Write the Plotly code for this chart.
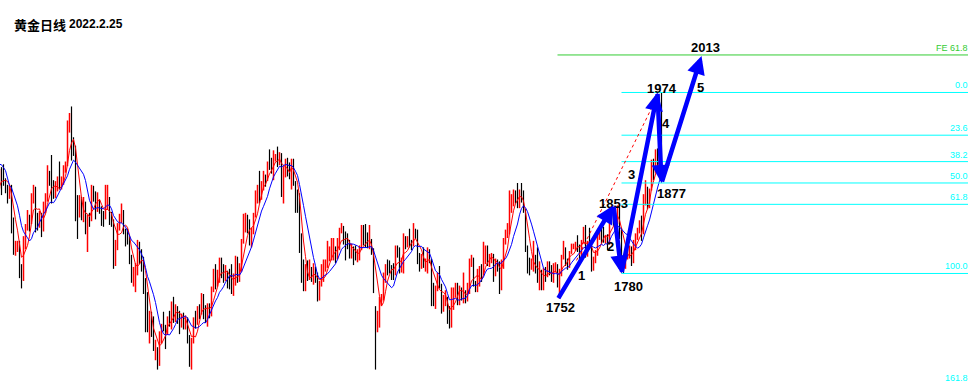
import plotly.graph_objects as go
import pandas as pd

# ---------------- data: XAUUSD daily bars, 2020-11-02 ... 2022-02-24 ----------------
# the first N_WARMUP bars lie left of the visible window (they only feed the averages)
N_WARMUP = 10

highs = [
    1896, 1910, 1910, 1951, 1960, 1966, 1881, 1882, 1881, 1892,                      # 2020-11 (warm-up)
    1894, 1897, 1882, 1875, 1875, 1875, 1840, 1815, 1815, 1815, 1790,                # 2020-11
    1820, 1833, 1848, 1843, 1866, 1875, 1873, 1845, 1847, 1845, 1857, 1866, 1896,
    1890, 1907, 1880, 1879, 1884, 1900, 1884, 1896, 1900,                            # 2020-12
    1944, 1952, 1959, 1926, 1917, 1864, 1864, 1862, 1862, 1857, 1843, 1845, 1875,
    1874, 1868, 1867, 1859, 1852, 1847, 1875,                                        # 2021-01
    1875, 1862, 1846, 1838, 1816, 1834, 1844, 1855, 1848, 1828, 1828, 1821, 1800,
    1787, 1791, 1816, 1814, 1806, 1798, 1775,                                        # 2021-02
    1760, 1740, 1739, 1734, 1709, 1701, 1718, 1726, 1739, 1725, 1734, 1740, 1750,
    1755, 1747, 1745, 1740, 1737, 1738, 1735, 1733, 1714, 1711,                      # 2021-03
    1733, 1740, 1745, 1747, 1759, 1758, 1746, 1748, 1748, 1766, 1785, 1790, 1784,
    1797, 1797, 1790, 1789, 1783, 1785, 1790, 1780,                                  # 2021-04
    1799, 1798, 1791, 1817, 1844, 1845, 1843, 1838, 1829, 1845, 1869, 1875, 1890,
    1879, 1890, 1886, 1900, 1913, 1904, 1912, 1908,                                  # 2021-05
    1916, 1910, 1909, 1895, 1903, 1904, 1899, 1903, 1903, 1879, 1870, 1866, 1823,
    1795, 1790, 1794, 1795, 1787, 1791, 1787, 1781, 1772,                            # 2021-06
    1790, 1795, 1795, 1815, 1809, 1818, 1818, 1809, 1818, 1829, 1834, 1831, 1825,
    1823, 1816, 1812, 1809, 1810, 1806, 1810, 1832, 1832,                            # 2021-07
    1833, 1824, 1832, 1817, 1807, 1745, 1740, 1755, 1758, 1781, 1790, 1795, 1794,
    1789, 1791, 1810, 1810, 1808, 1797, 1823, 1820, 1820,                            # 2021-08
    1828, 1816, 1834, 1828, 1827, 1802, 1801, 1808, 1796, 1808, 1806, 1796, 1770,
    1767, 1781, 1788, 1769, 1757, 1762, 1755, 1745, 1765,                            # 2021-09
    1765, 1770, 1770, 1767, 1765, 1781, 1762, 1770, 1796, 1800, 1797, 1772, 1785,
    1788, 1790, 1814, 1810, 1810, 1801, 1802, 1801,                                  # 2021-10
    1796, 1795, 1793, 1795, 1818, 1827, 1834, 1869, 1865, 1870, 1869, 1877, 1870,
    1877, 1869, 1849, 1810, 1797, 1796, 1815, 1800, 1808,                            # 2021-11
    1793, 1784, 1786, 1787, 1793, 1793, 1789, 1791, 1792, 1790, 1785, 1800, 1815,
    1808, 1796, 1804, 1812, 1812, 1814, 1821, 1811, 1816, 1830,                      # 2021-12
    1832, 1815, 1829, 1811, 1798, 1805, 1823, 1828, 1829, 1830, 1821, 1822, 1845,
    1847, 1847, 1845, 1853, 1852, 1829, 1800, 1802,                                  # 2022-01
    1807, 1810, 1809, 1816, 1823, 1829, 1837, 1842, 1865, 1880, 1873, 1871, 1902,
    1903, 1913, 1914, 1913, 1974,                                                    # 2022-02
]

lows = [
    1872, 1889, 1877, 1903, 1935, 1849, 1850, 1859, 1861, 1871,
    1864, 1874, 1866, 1855, 1860, 1823, 1800, 1799, 1803, 1775, 1764,
    1772, 1806, 1826, 1825, 1833, 1855, 1824, 1826, 1829, 1819, 1825, 1845, 1857,
    1874, 1855, 1860, 1861, 1868, 1870, 1870, 1875, 1888,
    1895, 1931, 1901, 1906, 1836, 1817, 1840, 1837, 1835, 1822, 1803, 1830, 1836,
    1857, 1838, 1846, 1844, 1831, 1830, 1838,
    1848, 1832, 1830, 1785, 1788, 1805, 1826, 1834, 1822, 1809, 1811, 1790, 1770,
    1766, 1760, 1778, 1790, 1782, 1758, 1717,
    1717, 1705, 1712, 1697, 1687, 1677, 1681, 1705, 1718, 1699, 1714, 1723, 1720,
    1727, 1728, 1726, 1715, 1722, 1720, 1720, 1705, 1680, 1677,
    1705, 1721, 1725, 1731, 1736, 1731, 1727, 1723, 1732, 1734, 1760, 1763, 1766,
    1770, 1775, 1770, 1772, 1764, 1763, 1758, 1756,
    1767, 1770, 1771, 1782, 1812, 1824, 1823, 1810, 1808, 1822, 1840, 1855, 1855,
    1859, 1869, 1873, 1879, 1891, 1887, 1880, 1900,
    1894, 1896, 1862, 1855, 1883, 1884, 1881, 1870, 1874, 1845, 1845, 1802, 1770,
    1761, 1761, 1772, 1773, 1771, 1768, 1770, 1750, 1751,
    1766, 1771, 1782, 1786, 1793, 1794, 1794, 1791, 1795, 1805, 1823, 1811, 1794,
    1806, 1796, 1796, 1789, 1794, 1792, 1794, 1805, 1810,
    1808, 1807, 1806, 1800, 1759, 1677, 1717, 1722, 1745, 1751, 1770, 1778, 1780,
    1773, 1773, 1778, 1797, 1780, 1781, 1780, 1806, 1808,
    1808, 1805, 1809, 1817, 1790, 1782, 1785, 1786, 1782, 1780, 1791, 1745, 1745,
    1742, 1761, 1764, 1737, 1739, 1745, 1726, 1721, 1722,
    1741, 1754, 1746, 1746, 1751, 1748, 1748, 1750, 1758, 1787, 1766, 1760, 1760,
    1766, 1771, 1778, 1790, 1788, 1787, 1791, 1771,
    1777, 1782, 1758, 1762, 1785, 1811, 1818, 1822, 1845, 1852, 1855, 1850, 1850,
    1856, 1845, 1803, 1780, 1778, 1784, 1782, 1780, 1770,
    1762, 1762, 1762, 1771, 1776, 1778, 1771, 1770, 1781, 1765, 1753, 1777, 1795,
    1788, 1784, 1786, 1801, 1806, 1804, 1803, 1790, 1795, 1812,
    1797, 1798, 1806, 1782, 1783, 1791, 1799, 1816, 1812, 1813, 1812, 1805, 1811,
    1833, 1831, 1831, 1833, 1817, 1794, 1780, 1785,
    1795, 1796, 1788, 1791, 1805, 1816, 1823, 1815, 1822, 1853, 1849, 1850, 1869,
    1880, 1888, 1886, 1890, 1878,
]

closes = [
    1894, 1908, 1904, 1947, 1951, 1862, 1877, 1866, 1873, 1889,
    1888, 1879, 1871, 1866, 1872, 1837, 1805, 1808, 1810, 1788, 1776,
    1815, 1830, 1841, 1838, 1862, 1870, 1838, 1836, 1840, 1827, 1853, 1863, 1887,
    1881, 1871, 1862, 1870, 1877, 1877, 1878, 1893, 1895,
    1943, 1950, 1918, 1913, 1849, 1844, 1855, 1845, 1851, 1828, 1840, 1840, 1871,
    1866, 1855, 1856, 1850, 1844, 1843, 1848,
    1860, 1838, 1834, 1793, 1814, 1831, 1838, 1842, 1825, 1824, 1818, 1795, 1775,
    1776, 1784, 1809, 1806, 1797, 1770, 1734,
    1723, 1737, 1715, 1698, 1700, 1683, 1716, 1726, 1722, 1719, 1731, 1731, 1745,
    1736, 1744, 1738, 1725, 1734, 1725, 1733, 1712, 1684, 1708,
    1728, 1728, 1743, 1737, 1756, 1744, 1732, 1746, 1736, 1764, 1777, 1771, 1779,
    1793, 1783, 1777, 1780, 1777, 1773, 1768, 1769,
    1792, 1779, 1785, 1815, 1831, 1836, 1836, 1815, 1826, 1843, 1867, 1869, 1869,
    1877, 1881, 1881, 1898, 1897, 1895, 1902, 1905,
    1903, 1909, 1871, 1891, 1898, 1893, 1888, 1899, 1877, 1866, 1859, 1811, 1774,
    1764, 1782, 1778, 1779, 1776, 1781, 1779, 1761, 1770,
    1776, 1787, 1792, 1796, 1803, 1804, 1808, 1806, 1808, 1825, 1829, 1812, 1812,
    1811, 1803, 1806, 1802, 1797, 1799, 1806, 1828, 1814,
    1813, 1810, 1813, 1804, 1763, 1729, 1730, 1752, 1753, 1780, 1787, 1787, 1786,
    1781, 1781, 1805, 1803, 1790, 1792, 1817, 1810, 1814,
    1813, 1810, 1827, 1823, 1794, 1788, 1795, 1788, 1794, 1804, 1794, 1754, 1754,
    1764, 1774, 1768, 1743, 1750, 1751, 1734, 1726, 1757,
    1761, 1769, 1760, 1762, 1756, 1757, 1754, 1760, 1793, 1796, 1768, 1765, 1769,
    1783, 1782, 1792, 1807, 1793, 1798, 1799, 1783,
    1793, 1788, 1769, 1792, 1818, 1825, 1832, 1849, 1862, 1868, 1863, 1852, 1868,
    1860, 1846, 1805, 1790, 1788, 1789, 1792, 1785, 1774,
    1781, 1769, 1783, 1779, 1785, 1783, 1775, 1783, 1787, 1771, 1778, 1798, 1804,
    1793, 1790, 1803, 1808, 1810, 1811, 1810, 1805, 1815, 1829,
    1801, 1815, 1810, 1790, 1797, 1801, 1822, 1826, 1821, 1817, 1819, 1813, 1843,
    1840, 1835, 1843, 1848, 1820, 1797, 1791, 1797,
    1801, 1807, 1804, 1808, 1820, 1826, 1833, 1827, 1859, 1872, 1855, 1870, 1898,
    1898, 1906, 1898, 1910, 1903,
]

MA_FAST = 5    # red average
MA_SLOW = 10   # blue average

# wave points (bar index, price) and their labels
wave_text = ["1752", "1853", "1780", "1974", "1877", "2013"]
wave_x = [278, 306, 310, 328, 330, 350]
wave_price = [1752, 1853, 1780, 1974, 1877, 2013]
wave_label_x = [279.3, 305.8, 313.3, 330.3, 334.8, 351.8]
wave_label_price = [1743.6, 1855.0, 1766.1, 1978.3, 1865.8, 2022.2]

count_text = ["1", "2", "3", "4", "5"]
count_x = [289.8, 304.3, 314.8, 332.3, 349.3]
count_price = [1777.9, 1809.0, 1886.1, 1940.8, 1979.4]

# Fibonacci retracement of 1780 -> 1974 and expansion of 1752 -> 1974 from 1877
fib_levels = [0.0, 23.6, 38.2, 50.0, 61.8, 100.0, 161.8]
fe_level = 61.8

# dotted red trend line (bar index, price)
trend_x = [287.5, 327.5]
trend_price = [1794, 1968]

title_cn = "黄金日线"
title_date = "2022.2.25"

# ---------------- layout constants ----------------
W, H = 968, 382
X_RANGE = [-0.75, 483.25]
Y_RANGE = [1663.7, 2073.1]
CYAN = "#00ffff"
GREEN = "#33cc33"
BLUE = "#0000ff"
RED = "#ff0000"

# ---------------- derived series ----------------
n = len(closes)
assert len(highs) == n and len(lows) == n
x = [i - N_WARMUP for i in range(n)]
opens = [closes[0]] + closes[:-1]
s = pd.Series(closes, dtype=float)
ma_fast = s.rolling(MA_FAST).mean()
ma_slow = s.rolling(MA_SLOW).mean()

up_x, up_y, dn_x, dn_y = [], [], [], []
for xi, o, h, l, c in zip(x, opens, highs, lows, closes):
    if c > o:
        up_x += [xi, xi, None]
        up_y += [l, h, None]
    else:
        dn_x += [xi, xi, None]
        dn_y += [l, h, None]

fig = go.Figure()
fig.add_trace(go.Scatter(x=dn_x, y=dn_y, mode="lines", line=dict(color="#000000", width=1.2),
                         hoverinfo="skip", showlegend=False))
fig.add_trace(go.Scatter(x=up_x, y=up_y, mode="lines", line=dict(color=RED, width=1.5),
                         hoverinfo="skip", showlegend=False))
fig.add_trace(go.Scatter(x=x, y=ma_fast, mode="lines",
                         line=dict(color=RED, width=1), hoverinfo="skip", showlegend=False))
fig.add_trace(go.Scatter(x=x, y=ma_slow, mode="lines",
                         line=dict(color=BLUE, width=1), hoverinfo="skip", showlegend=False))

shapes = []
annotations = []

def paper_y(price):
    return (price - Y_RANGE[0]) / (Y_RANGE[1] - Y_RANGE[0])

fib_hi, fib_lo = wave_price[3], wave_price[2]
for lv in fib_levels:
    p = fib_hi - lv / 100.0 * (fib_hi - fib_lo)
    shapes.append(dict(type="line", xref="x", yref="y", x0=wave_x[2], x1=X_RANGE[1],
                       y0=p, y1=p, line=dict(color=CYAN, width=1)))
    annotations.append(dict(text=f"{lv:.1f}", xref="paper", yref="paper", x=1, y=paper_y(p),
                            xanchor="right", yanchor="bottom", xshift=2, showarrow=False,
                            font=dict(family="Liberation Sans, Arial", size=9, color=CYAN)))

fe_price = wave_price[4] + fe_level / 100.0 * (wave_price[3] - wave_price[0])
shapes.append(dict(type="line", xref="x", yref="y", x0=wave_x[0], x1=X_RANGE[1],
                   y0=fe_price, y1=fe_price, line=dict(color=GREEN, width=1)))
annotations.append(dict(text=f"FE {fe_level:.1f}", xref="paper", yref="paper", x=1,
                        y=paper_y(fe_price), xanchor="right", yanchor="bottom", xshift=2,
                        showarrow=False,
                        font=dict(family="Liberation Sans, Arial", size=9, color=GREEN)))

shapes.append(dict(type="line", xref="x", yref="y", x0=trend_x[0], x1=trend_x[1],
                   y0=trend_price[0], y1=trend_price[1],
                   line=dict(color=RED, width=1, dash="dot")))

label_font = dict(family="Liberation Sans, Arial", size=13, color="#000000")
for t, lx, ly in zip(wave_text, wave_label_x, wave_label_price):
    annotations.append(dict(text=f"<b>{t}</b>", x=lx, y=ly, xref="x", yref="y",
                            showarrow=False, xanchor="center", yanchor="middle", font=label_font))
for t, lx, ly in zip(count_text, count_x, count_price):
    annotations.append(dict(text=f"<b>{t}</b>", x=lx, y=ly, xref="x", yref="y",
                            showarrow=False, xanchor="center", yanchor="middle", font=label_font))

# arrows between consecutive wave points
for k in range(len(wave_x) - 1):
    annotations.append(dict(
        text="", x=wave_x[k + 1], y=wave_price[k + 1], xref="x", yref="y",
        ax=wave_x[k], ay=wave_price[k], axref="x", ayref="y",
        showarrow=True, arrowhead=2, arrowsize=0.8, arrowwidth=4.5, arrowcolor=BLUE,
        standoff=0, startstandoff=0))

annotations.append(dict(text=f"<b>{title_cn}</b>", xref="paper", yref="paper",
                        x=12 / W, y=1 - 24.5 / H, xanchor="left", yanchor="middle",
                        showarrow=False,
                        font=dict(family="Noto Sans CJK SC", size=13, color="#000000")))
annotations.append(dict(text=f"<b>{title_date}</b>", xref="paper", yref="paper",
                        x=67 / W, y=1 - 24 / H, xanchor="left", yanchor="middle",
                        showarrow=False,
                        font=dict(family="Liberation Sans, Arial", size=12, color="#000000")))

fig.update_layout(
    width=W, height=H, margin=dict(l=0, r=0, t=0, b=0),
    paper_bgcolor="white", plot_bgcolor="white", showlegend=False,
    xaxis=dict(range=X_RANGE, visible=False, fixedrange=True),
    yaxis=dict(range=Y_RANGE, visible=False, fixedrange=True),
    shapes=shapes, annotations=annotations,
)

fig.write_html("out.html")
